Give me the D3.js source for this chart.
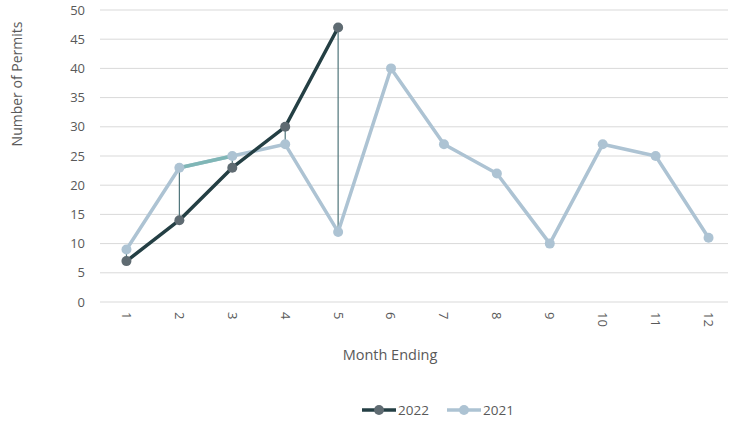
<!DOCTYPE html>
<html>
<head>
<meta charset="utf-8">
<script src="https://cdn.jsdelivr.net/npm/d3@7"></script>
<style>
  body { margin: 0; background: #fff; }
  text { font-family: "Open Sans", "Liberation Sans", sans-serif; fill: #595959; }
</style>
</head>
<body>
<svg id="chart"></svg>
<script>
// Data
const months = [1, 2, 3, 4, 5, 6, 7, 8, 9, 10, 11, 12];
const permits2022 = [7, 14, 23, 30, 47];
const permits2021 = [9, 23, 25, 27, 12, 40, 27, 22, 10, 27, 25, 11];
const yTicks = [0, 5, 10, 15, 20, 25, 30, 35, 40, 45, 50];

const width = 738, height = 423;
const margin = { top: 10, right: 3, bottom: 121, left: 100 };

const svg = d3.select("#chart").attr("width", width).attr("height", height);

const x = d3.scaleBand().domain(months).range([margin.left, width - margin.right]);
const y = d3.scaleLinear().domain([0, 50]).range([height - margin.bottom, margin.top]);
const cx = m => x(m) + x.bandwidth() / 2;

// gridlines
svg.append("g")
  .selectAll("line")
  .data(yTicks)
  .join("line")
  .attr("x1", margin.left).attr("x2", width - 10)
  .attr("y1", d => y(d)).attr("y2", d => y(d))
  .attr("stroke", "#d9d9d9").attr("stroke-width", 1);

// y tick labels
svg.append("g")
  .selectAll("text")
  .data(yTicks)
  .join("text")
  .attr("x", 85).attr("y", d => y(d))
  .attr("dy", "0.35em")
  .attr("text-anchor", "end")
  .style("font-size", "13px")
  .text(d => d);

// x tick labels (rotated)
svg.append("g")
  .selectAll("text")
  .data(months)
  .join("text")
  .attr("transform", d => `translate(${cx(d)},${312}) rotate(90)`)
  .attr("dy", "0.35em")
  .attr("text-anchor", "start")
  .style("font-size", "13px")
  .text(d => d);

// axis titles
svg.append("text")
  .attr("transform", `translate(22,84) rotate(-90)`)
  .attr("text-anchor", "middle")
  .style("font-size", "14px")
  .text("Number of Permits");

svg.append("text")
  .attr("x", 390).attr("y", 360)
  .attr("text-anchor", "middle")
  .style("font-size", "14.5px")
  .text("Month Ending");

// high-low lines
svg.append("g")
  .selectAll("line")
  .data(permits2022)
  .join("line")
  .attr("x1", (d, i) => cx(months[i])).attr("x2", (d, i) => cx(months[i]))
  .attr("y1", d => y(d)).attr("y2", (d, i) => y(permits2021[i]))
  .attr("stroke", "#4f757a").attr("stroke-width", 1.2);

const line = d3.line().x((d, i) => cx(months[i])).y(d => y(d));

// 2021 series
svg.append("path")
  .datum(permits2021)
  .attr("d", line)
  .attr("fill", "none")
  .attr("stroke", "#adc3d3")
  .attr("stroke-width", 3.5)
  .attr("stroke-linejoin", "round");

// highlighted segment between months 2 and 3
svg.append("line")
  .attr("x1", cx(2)).attr("y1", y(permits2021[1]))
  .attr("x2", cx(3)).attr("y2", y(permits2021[2]))
  .attr("stroke", "#7fb6b6").attr("stroke-width", 3.5);

svg.append("g")
  .selectAll("circle")
  .data(permits2021)
  .join("circle")
  .attr("cx", (d, i) => cx(months[i])).attr("cy", d => y(d))
  .attr("r", 5).attr("fill", "#adc3d3");

// 2022 series
svg.append("path")
  .datum(permits2022)
  .attr("d", line)
  .attr("fill", "none")
  .attr("stroke", "#243f44")
  .attr("stroke-width", 3.5)
  .attr("stroke-linejoin", "round");

svg.append("g")
  .selectAll("circle")
  .data(permits2022)
  .join("circle")
  .attr("cx", (d, i) => cx(months[i])).attr("cy", d => y(d))
  .attr("r", 5).attr("fill", "#5f6b72");

// legend
const legend = [
  { label: "2022", stroke: "#243f44", dot: "#5f6b72", x: 362 },
  { label: "2021", stroke: "#adc3d3", dot: "#adc3d3", x: 447 }
];
const lg = svg.append("g").selectAll("g").data(legend).join("g")
  .attr("transform", d => `translate(${d.x},410)`);
lg.append("line").attr("x1", 0).attr("x2", 34)
  .attr("stroke", d => d.stroke).attr("stroke-width", 3.5);
lg.append("circle").attr("cx", 17).attr("r", 5).attr("fill", d => d.dot);
lg.append("text").attr("x", 36).attr("dy", "0.35em")
  .style("font-size", "13.5px").text(d => d.label);
</script>
</body>
</html>
